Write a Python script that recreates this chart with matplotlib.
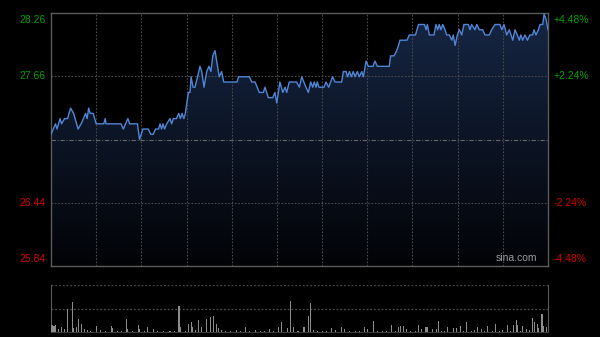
import numpy as np
import matplotlib
matplotlib.use('Agg')
import matplotlib.pyplot as plt
from matplotlib.patches import Polygon

# price trace (minute of session, price)
price_min = [0, 3, 4, 6, 7, 9, 11, 13, 15, 18, 20, 23, 24, 25, 26, 28, 30, 35, 36, 36.5,
             46.5, 48, 49.5, 51, 52.3, 57.4, 58.8, 61, 64.6, 66.2, 67.9, 69.4, 71.4, 72.4, 73.4,
             74.4, 75.4, 76.8, 79, 80.1, 81.2, 83.3, 84.8, 85.9, 87, 88.2, 89.2, 91.2, 92.3, 93,
             94.3, 95.6, 97.3, 98.9, 100.1, 101.6, 103.4, 104.9, 106.2, 107.4, 108.9, 110, 111.7,
             113.3, 114.7, 123.5, 124.5, 131.7, 133.3, 135.5, 138.3, 141, 142.1, 144.3, 147.2,
             148.7, 149.9, 152, 153.9, 155.4, 156.5, 158.2, 163.1, 164.9, 166.5, 169.3, 170.9,
             172.4, 173.8, 174.8, 176, 176.8, 177.9, 181.3, 182.6, 184.4, 187, 188.6, 193, 194.1,
             195.9, 196.9, 198.2, 199.4, 200.7, 201.9, 203.4, 204.7, 206.3, 207.4, 209.2, 210.7,
             213.8, 215.1, 216.7, 224.6, 225.5, 227.8, 229.5, 230.7, 231.7, 236.4, 237.9, 242,
             244, 248, 249, 249.9, 251.2, 252.1, 254.3, 255.6, 256.8, 257.8, 258.9, 260.1, 261.6,
             262.7, 264.5, 266.1, 267.1, 268.3, 269.8, 271.1, 272.7, 274.2, 277.1, 278.2, 279.3,
             281.5, 282.7, 284.4, 286.6, 288.2, 291, 292.6, 294.8, 298.1, 299.3, 300.8, 302.6,
             304.3, 306.6, 308.1, 309.6, 311, 311.9, 313.2, 314.7, 316.3, 318, 319.8, 320.7, 322,
             323.6, 324.7, 326.5, 327.4, 328.7, 330]
price_val = [27.10, 27.20, 27.15, 27.25, 27.20, 27.25, 27.25, 27.35, 27.30, 27.15, 27.20, 27.30,
             27.25, 27.35, 27.30, 27.30, 27.20, 27.20, 27.25, 27.20,
             27.20, 27.15, 27.20, 27.25, 27.20, 27.20, 27.05, 27.15, 27.15, 27.10, 27.10, 27.15,
             27.15, 27.20, 27.15, 27.20, 27.15, 27.20, 27.25, 27.20, 27.25, 27.25, 27.30, 27.25,
             27.30, 27.25, 27.30, 27.50, 27.50, 27.65, 27.55, 27.55, 27.65, 27.75, 27.70, 27.55,
             27.70, 27.75, 27.70, 27.85, 27.90, 27.80, 27.65, 27.70, 27.60, 27.60, 27.65, 27.65,
             27.60, 27.60, 27.50, 27.50, 27.55, 27.45, 27.45, 27.50, 27.40, 27.60, 27.50, 27.55,
             27.50, 27.60, 27.60, 27.55, 27.65, 27.55, 27.50, 27.60, 27.55, 27.60, 27.55, 27.60,
             27.55, 27.55, 27.60, 27.55, 27.65, 27.60, 27.60, 27.70, 27.70, 27.65, 27.70, 27.65,
             27.70, 27.65, 27.70, 27.65, 27.70, 27.65, 27.80, 27.75, 27.75, 27.80, 27.75, 27.75,
             27.85, 27.85, 27.90, 27.95, 28.00, 28.00, 28.05, 28.05, 28.15, 28.15, 28.10, 28.15,
             28.05, 28.05, 28.05, 28.15, 28.10, 28.15, 28.10, 28.15, 28.10, 28.05, 28.05, 28.00,
             28.05, 27.95, 28.05, 28.10, 28.05, 28.15, 28.15, 28.10, 28.15, 28.10, 28.15, 28.10,
             28.10, 28.05, 28.05, 28.10, 28.15, 28.15, 28.10, 28.15, 28.05, 28.10, 28.00, 28.10,
             28.05, 28.00, 28.05, 28.00, 28.05, 28.00, 28.05, 28.05, 28.10, 28.05, 28.10, 28.15,
             28.15, 28.25, 28.20, 28.10]

# volume bars (minute, volume)
vol_min = [0, 1, 2, 3, 5, 7, 9, 11, 14, 15, 17, 18, 20, 22, 24, 26, 30, 33, 36, 40, 41, 44, 47,
           50, 51, 54, 58, 59, 62, 64, 68, 71, 75, 79, 82, 85, 86, 89, 91, 93, 94, 96, 98, 100,
           103, 106, 108, 110, 111, 113, 116, 119, 123, 126, 129, 132, 136, 139, 142, 145, 148,
           151, 153, 157, 159, 161, 164, 168, 171, 172, 174, 177, 180, 183, 186, 189, 193, 195,
           198, 202, 205, 208, 210, 214, 217, 220, 223, 226, 229, 231, 232, 234, 236, 239, 242,
           244, 246, 249, 250, 253, 256, 257, 259, 261, 263, 267, 269, 272, 274, 276, 279, 281,
           283, 286, 288, 290, 293, 295, 298, 300, 303, 305, 307, 309, 310, 312, 313, 316, 318,
           320, 321, 323, 324, 326, 327, 329]
vol_val = [70, 70, 65, 70, 30, 55, 30, 230, 300, 40, 55, 130, 80, 30, 20, 15, 57, 20, 10, 60, 40,
           15, 10, 130, 30, 15, 70, 30, 10, 50, 30, 15, 10, 15, 10, 260, 55, 15, 80, 97, 50, 20,
           117, 55, 130, 150, 157, 80, 40, 20, 15, 10, 20, 15, 50, 10, 20, 15, 10, 30, 15, 55, 97,
           40, 313, 55, 10, 50, 157, 290, 20, 15, 15, 10, 40, 20, 50, 30, 15, 10, 15, 50, 30, 107,
           10, 15, 10, 70, 15, 50, 57, 57, 30, 10, 15, 70, 30, 50, 50, 30, 30, 107, 15, 10, 50,
           40, 40, 57, 15, 97, 15, 20, 50, 30, 15, 63, 10, 83, 15, 20, 73, 15, 73, 117, 73, 15,
           63, 30, 20, 140, 97, 83, 40, 180, 57, 50]

left_ticks = [25.84, 26.44, 27.66, 28.26]
left_labels = ['25.84', '26.44', '27.66', '28.26']
right_labels = ['-4.48%', '-2.24%', '+2.24%', '+4.48%']
prev_close = 27.05
y_lo, y_hi = 25.84, 28.26

fig = plt.figure(figsize=(6, 3.37), dpi=100, facecolor='black')
ax = fig.add_axes([51/600, 1-266/337, 497/600, 253/337], facecolor='black')
ax2 = fig.add_axes([51/600, 1-332/337, 497/600, 47/337], facecolor='black')

frame = '#5a5a5a'
grid = '#4a4a4a'

# gradient fill under the line
t = np.array(price_min)
p = np.array(price_val)
top = np.array([22, 38, 68]) / 255
bot = np.array([2, 3, 6]) / 255
k = np.linspace(0, 1, 256)[:, None]
grad = (top * (1 - k) + bot * k)[:, None, :]
im = ax.imshow(grad, extent=[0, 330, y_lo, y_hi], aspect='auto', zorder=1, origin='upper')
verts = list(zip(t, p)) + [(t[-1], y_lo), (t[0], y_lo)]
poly = Polygon(verts, closed=True, facecolor='none', edgecolor='none')
ax.add_patch(poly)
im.set_clip_path(poly)

ax.plot(t, p, color='#4f86d6', lw=1.0, zorder=3)

# grid
for i in range(1, 11):
    ax.axvline(i * 30, color=grid, lw=0.8, ls=(0, (1.5, 1.5)), zorder=2)
for v in [26.44, 27.66]:
    ax.axhline(v, color=grid, lw=0.8, ls=(0, (1.5, 1.5)), zorder=2)
ax.axhline(prev_close, color='#666666', lw=0.8, ls=(0, (4, 1.5, 1, 1.5)), zorder=2)

ax.set_xlim(0, 330)
ax.set_ylim(y_lo, y_hi)
ax.set_xticks([])
ax.set_yticks([])
for s in ax.spines.values():
    s.set_color(frame)
    s.set_linewidth(1.0)

fnt = dict(family='Liberation Sans', fontsize=7.5)
vas = ['bottom', 'center', 'center', 'top']
for v, lab, rl, va in zip(left_ticks, left_labels, right_labels, vas):
    c = '#00a000' if v > prev_close else '#d00000'
    off = {'bottom': 1.5, 'center': 0, 'top': -1.5}[va]
    ax.annotate(lab, (0, v), xycoords=('axes fraction', 'data'), xytext=(-4, off),
                textcoords='offset points', ha='right', va=va, color=c, **fnt)
    ax.annotate(rl, (1, v), xycoords=('axes fraction', 'data'), xytext=(4, off),
                textcoords='offset points', ha='left', va=va, color=c, **fnt)

ax.text(0.978, 0.012, 'sina.com', transform=ax.transAxes, ha='right', va='bottom',
        color='#9a9a9a', zorder=4, **fnt)

# volume panel
ax2.bar(vol_min, vol_val, width=0.7, color='#8c8c8c', zorder=3)
ax2.set_xlim(0, 330)
ax2.set_ylim(0, 470)
ax2.axhline(470, color=grid, lw=0.9, ls=(0, (1.5, 1.5)))
ax2.axhline(235, color=grid, lw=0.9, ls=(0, (1.5, 1.5)))
ax2.set_xticks([])
ax2.set_yticks([])
ax2.spines['top'].set_visible(False)
ax2.spines['bottom'].set_color('#3a3a3a')
for s in ['left', 'right']:
    ax2.spines[s].set_color(frame)

fig.savefig('out.png', dpi=100, facecolor='black')
